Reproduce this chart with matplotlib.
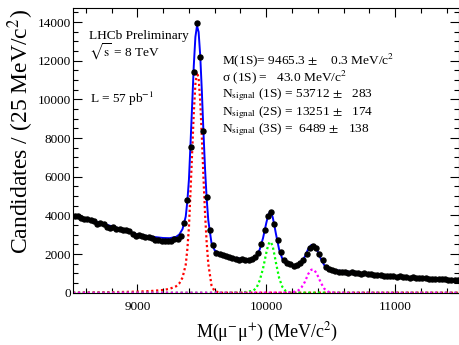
import numpy as np
import matplotlib
matplotlib.use("Agg")
import matplotlib.pyplot as plt
from matplotlib.ticker import MultipleLocator

plt.rcParams['font.family'] = ['Liberation Serif', 'DejaVu Serif']
plt.rcParams['mathtext.fontset'] = 'stix'

# dimuon mass spectrum, 25 MeV bins from 8500 to 11500 MeV
bin_width = 25.0
mass = np.arange(8500 + bin_width / 2, 11500, bin_width)
counts = [
    3960, 3990, 3850, 3810, 3790, 3780, 3700, 3560, 3620, 3580,
    3420, 3370, 3380, 3310, 3290, 3260, 3250, 3180, 3050, 2950,
    2960, 2920, 2900, 2880, 2820, 2740, 2720, 2700, 2680, 2650,
    2690, 2780, 2760, 2930, 3600, 4800, 7550, 11430, 13930, 12210,
    8360, 4930, 3240, 2450, 2070, 2000, 1950, 1880, 1830, 1780,
    1760, 1700, 1720, 1690, 1710, 1760, 1850, 2050, 2500, 3250,
    3980, 4170, 3550, 2720, 2080, 1700, 1540, 1470, 1390, 1430,
    1530, 1680, 2020, 2290, 2430, 2320, 2020, 1700, 1350, 1250,
    1180, 1120, 1090, 1080, 1060, 1040, 1050, 1020, 1000, 990,
    1010, 960, 950, 930, 900, 910, 880, 870, 850, 880,
    830, 860, 820, 810, 780, 800, 760, 770, 740, 760,
    720, 710, 720, 700, 690, 710, 680, 650, 670, 660,
]

# fit components
fit_mass = [
    8500, 8600, 8700, 8800, 8900, 9000, 9100, 9200, 9250, 9300,
    9325, 9350, 9375, 9387.5, 9400, 9412.5, 9425, 9437.5, 9450, 9462.5,
    9475, 9487.5, 9500, 9512.5, 9525, 9537.5, 9550, 9575, 9600, 9650,
    9700, 9750, 9800, 9850, 9900, 9925, 9950, 9975, 10000, 10012.5,
    10025, 10037.5, 10050, 10062.5, 10075, 10100, 10125, 10150, 10175, 10200,
    10225, 10250, 10275, 10300, 10325, 10350, 10362.5, 10375, 10387.5, 10400,
    10425, 10450, 10475, 10500, 10550, 10600, 10700, 10800, 10900, 11000,
    11100, 11200, 11300, 11400, 11500,
]
fit_bkg = [
    3960, 3790, 3610, 3410, 3200, 2950, 2820, 2690, 2620, 2560,
    2530, 2510, 2490, 2480, 2470, 2460, 2450, 2440, 2430, 2410,
    2390, 2370, 2350, 2330, 2300, 2280, 2250, 2190, 2120, 1990,
    1880, 1800, 1740, 1690, 1640, 1620, 1600, 1575, 1550, 1540,
    1530, 1520, 1510, 1500, 1490, 1470, 1450, 1430, 1410, 1390,
    1370, 1350, 1330, 1310, 1295, 1280, 1272, 1265, 1258, 1250,
    1235, 1220, 1205, 1190, 1150, 1110, 1040, 970, 910, 850,
    800, 760, 720, 690, 660,
]
fit_1s = [
    0, 15, 20, 30, 40, 55, 85, 140, 200, 330,
    480, 780, 1450, 2250, 3400, 5300, 7300, 9300, 10800, 11400,
    11100, 9900, 8100, 6000, 4100, 2600, 1500, 380, 70, 0,
    0, 0, 0, 0, 0, 0, 0, 0, 0, 0,
    0, 0, 0, 0, 0, 0, 0, 0, 0, 0,
    0, 0, 0, 0, 0, 0, 0, 0, 0, 0,
    0, 0, 0, 0, 0, 0, 0, 0, 0, 0,
    0, 0, 0, 0, 0,
]
fit_2s = [
    0, 0, 0, 0, 0, 0, 0, 0, 0, 0,
    0, 0, 0, 0, 0, 0, 0, 0, 0, 0,
    0, 0, 0, 0, 0, 0, 0, 0, 0, 0,
    0, 10, 20, 40, 110, 260, 650, 1250, 2050, 2400,
    2620, 2600, 2400, 2000, 1560, 760, 300, 90, 15, 0,
    0, 0, 0, 0, 0, 0, 0, 0, 0, 0,
    0, 0, 0, 0, 0, 0, 0, 0, 0, 0,
    0, 0, 0, 0, 0,
]
fit_3s = [
    0, 0, 0, 0, 0, 0, 0, 0, 0, 0,
    0, 0, 0, 0, 0, 0, 0, 0, 0, 0,
    0, 0, 0, 0, 0, 0, 0, 0, 0, 0,
    0, 0, 0, 0, 0, 0, 0, 0, 0, 0,
    0, 0, 0, 0, 0, 0, 0, 5, 12, 25,
    55, 120, 290, 560, 960, 1190, 1200, 1150, 1030, 870,
    500, 210, 65, 15, 0, 0, 0, 0, 0, 0,
    0, 0, 0, 0, 0,
]

fit_results = [
    r'M(1S)= 9465.3 $\pm$    0.3 MeV/c$^{2}$',
    r'σ (1S) =   43.0 MeV/c$^{2}$',
    r'N$_{\rm signal}$ (1S) = 53712 $\pm$   283',
    r'N$_{\rm signal}$ (2S) = 13251 $\pm$   174',
    r'N$_{\rm signal}$ (3S) =  6489 $\pm$   138',
]

counts = np.array(counts, dtype=float)
fit_total = np.array(fit_bkg) + np.array(fit_1s) + np.array(fit_2s) + np.array(fit_3s)

W, H = 460, 345
fig = plt.figure(figsize=(W / 100, H / 100), dpi=100)
ax = fig.add_axes([73 / W, 52.3 / H, 386.5 / W, 284.7 / H])

ax.plot(fit_mass, fit_1s, color='#ff0000', lw=1.6, ls=(0, (1, 1.2)), zorder=2)
ax.plot(fit_mass, fit_2s, color='#00ff00', lw=1.6, ls=(0, (1, 1.2)), zorder=2)
ax.plot(fit_mass, fit_3s, color='#ff00ff', lw=1.6, ls=(0, (1, 1.2)), zorder=2)
ax.plot(fit_mass, fit_total, color='#0000ff', lw=1.4, zorder=3)
ax.errorbar(mass, counts, xerr=bin_width / 2, yerr=np.sqrt(counts),
            fmt='o', color='black', ms=3.6, elinewidth=1.3, capsize=0, zorder=4)

ax.set_xlim(8500, 11500)
ax.set_ylim(0, 14730)
ax.xaxis.set_major_locator(MultipleLocator(1000))
ax.xaxis.set_minor_locator(MultipleLocator(200))
ax.yaxis.set_major_locator(MultipleLocator(2000))
ax.yaxis.set_minor_locator(MultipleLocator(500))
ax.tick_params(which='both', direction='in', top=True, right=True,
               width=0.8, labelsize=9.5, colors='black')
ax.tick_params(which='major', length=6.5)
ax.tick_params(which='minor', length=3.5)
ax.tick_params(axis='y', pad=1.5)
ax.tick_params(axis='x', pad=6)
for s in ax.spines.values():
    s.set_linewidth(0.8)

fig.text(21 / W, 1 - 132 / H, 'Candidates / (25 MeV/c$^{2}$)', rotation=90,
         ha='center', va='center', fontsize=17)
fig.text(267 / W, 1 - 337 / H, 'M(μ$^{-}$μ$^{+}$) (MeV/c$^{2}$)',
         ha='center', va='baseline', fontsize=13)

fig.text(89 / W, 1 - 35.5 / H, 'LHCb Preliminary', ha='left', va='center', fontsize=9.6)
fig.text(89 / W, 1 - 52 / H, r'$\sqrt{\rm s}$ = 8 TeV', ha='left', va='center', fontsize=9.6)
fig.text(90 / W, 1 - 99 / H, 'L = 57 pb$^{-1}$', ha='left', va='center', fontsize=9.6)

for i, line in enumerate(fit_results):
    fig.text(222 / W, 1 - (60 + 17.4 * i) / H, line, ha='left', va='center', fontsize=9.6)

fig.savefig('out.png', dpi=100)
